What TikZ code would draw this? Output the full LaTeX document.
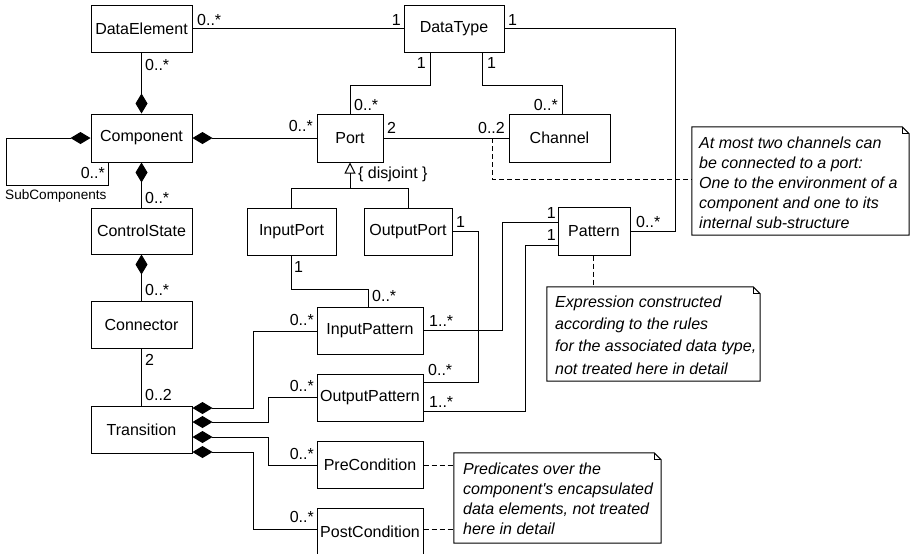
\documentclass[tikz,border=0pt]{standalone}
\usepackage{fontspec}
\setmainfont{Liberation Sans}
\usetikzlibrary{arrows.meta}
\begin{document}
\begin{tikzpicture}[x=1pt,y=-1pt,
  cls/.style={draw, line width=1pt, inner sep=0pt, font=\fontsize{16}{19}\selectfont},
  lbl/.style={inner sep=0pt, font=\fontsize{16}{19}\selectfont},
  small/.style={inner sep=0pt, font=\fontsize{13.6}{16}\selectfont},
  link/.style={line width=1pt},
  owner/.style={{Diamond[length=20pt,width=12pt]}-},
  owned/.style={-{Diamond[length=20pt,width=12pt]}},
  notebox/.style={inner sep=0pt},
  notetext/.style={inner sep=0pt, align=left, anchor=north west},
  dashline/.style={line width=1pt, dash pattern=on 5pt off 3pt},
]
\useasboundingbox (0,0) rectangle (910,554);
\fill[white] (0,0) rectangle (910,554);

% classes
\node[cls, minimum width=101pt, minimum height=47pt] (de) at (141.5,28.5) {DataElement};
\node[cls, minimum width=100pt, minimum height=47pt] (dt) at (454,28.5) {DataType};
\node[cls, minimum width=101pt, minimum height=48pt] (comp) at (141.5,138) {Component};
\node[cls, minimum width=66pt, minimum height=48pt] (port) at (350,138) {Port};
\node[cls, minimum width=101pt, minimum height=48pt] (chan) at (559.5,138) {Channel};
\node[cls, minimum width=101pt, minimum height=46pt] (cs) at (141.5,231) {ControlState};
\node[cls, minimum width=101pt, minimum height=47pt] (conn) at (141.5,324.5) {Connector};
\node[cls, minimum width=101pt, minimum height=47pt] (tr) at (141.5,429.5) {Transition};
\node[cls, minimum width=89pt, minimum height=47pt] (ip) at (291.5,231.5) {InputPort};
\node[cls, minimum width=88pt, minimum height=47pt] (op) at (408,231.5) {OutputPort};
\node[cls, minimum width=72pt, minimum height=48pt] (pat) at (594,231) {Pattern};
\node[cls, minimum width=106pt, minimum height=47pt] (inpat) at (370,330.5) {InputPattern};
\node[cls, minimum width=106pt, minimum height=47pt] (outpat) at (370,397.5) {OutputPattern};
\node[cls, minimum width=106pt, minimum height=47pt] (pre) at (370,464.5) {PreCondition};
\node[cls, minimum width=106pt, minimum height=47pt] (post) at (370,531.5) {PostCondition};

% notes
\node[notebox, minimum width=217pt, minimum height=108pt] (n1) at (800.5,181) {};
\node[notebox, minimum width=213pt, minimum height=94pt] (n2) at (653.5,334) {};
\node[notebox, minimum width=207pt, minimum height=90pt] (n3) at (557.5,498) {};
\foreach \n in {n1,n2,n3}{
  \draw[line width=1pt] (\n.north west) -- ([xshift=-7pt]\n.north east)
    -- ([yshift=-7pt]\n.north east) -- (\n.south east) -- (\n.south west) -- cycle;
  \draw[line width=0.8pt] ([xshift=-7pt]\n.north east) -- ([xshift=-7pt,yshift=-7pt]\n.north east)
    -- ([yshift=-7pt]\n.north east);
}
\node[notetext, font=\fontsize{16}{20}\selectfont\itshape] (n1t) at (699,136.5)
  {At most two channels can\\be connected to a port:\\One to the environment of a\\component and one to its\\internal sub-structure};
\node[notetext, font=\fontsize{16}{22.3}\selectfont\itshape] (n2t) at (555,295.5)
  {Expression constructed\\according to the rules\\for the associated data type,\\not treated here in detail};
\node[notetext, font=\fontsize{16}{20}\selectfont\itshape] (n3t) at (463,462.5)
  {Predicates over the\\component\textquotesingle s encapsulated\\data elements, not treated\\here in detail};

% associations
\draw[link] (de) -- (dt);
\draw[link, owned] (de.south) -- (comp.north);
\draw[link, owner] (comp.west) -| (6,185) -| (comp.south -| 108,0);
\draw[link, owner] (comp.east) -- (port.west);
\draw[link, owner] (comp.south) -- (cs.north);
\draw[link, owner] (cs.south) -- (conn.north);
\draw[link] (conn.south) -- (tr.north);
\draw[link] (dt.south -| 430,0) |- (350,85) -- (port.north);
\draw[link] (dt.south -| 482,0) |- (562,85) -- (chan.north -| 562,0);
\draw[link] (port.east) -- (chan.west);
\coordinate (pc) at (492,138);
\draw[dashline] (pc) |- (n1.west |- 0,179);
\draw[link] (dt.east) -| (675,231) -- (pat.east |- 0,231);

% generalization
\draw[link] (ip.north) |- (op.north |- 0,188) -- (op.north);
\draw[link, -{Triangle[open, length=11pt, width=11pt]}] (port.south |- 0,188) -- (port.south);

% patterns
\draw[link] (ip.south) |- (368,289) -- (inpat.north -| 368,0);
\draw[link] (op.east) -| (478,382) -- (outpat.east |- 0,382);
\draw[link] (inpat.east) -| (502,222) -- (pat.west |- 0,222);
\draw[link] (outpat.east |- 0,411) -| (525,245) -- (pat.west |- 0,245);
\draw[dashline] (pat.south -| 593,0) -- (n2.north -| 593,0);

% transition parts
\draw[link, owner] (tr.east |- 0,408) -| (253,331) -- (inpat.west |- 0,331);
\draw[link, owner] (tr.east |- 0,422) -| (268,397) -- (outpat.west |- 0,397);
\draw[link, owner] (tr.east |- 0,437) -| (268,465) -- (pre.west |- 0,465);
\draw[link, owner] (tr.east |- 0,452) -| (253,529) -- (post.west |- 0,529);
\draw[dashline] (pre.east |- 0,465) -- (n3.west |- 0,465);
\draw[dashline] (post.east |- 0,529) -- (n3.west |- 0,529);

% multiplicities
\node[lbl, anchor=west] (m1) at (197,20) {0..*};
\node[lbl, anchor=east] (m2) at (401,20) {1};
\node[lbl, anchor=west] (m3) at (508,20) {1};
\node[lbl, anchor=west] (m4) at (145,65) {0..*};
\node[lbl, anchor=east] (m5) at (313,126) {0..*};
\node[lbl, anchor=east] (m6) at (105,173) {0..*};
\node[small, anchor=west] (sub) at (5,196) {SubComponents};
\node[lbl, anchor=west] (m7) at (145,198) {0..*};
\node[lbl, anchor=west] (m8) at (145,290) {0..*};
\node[lbl, anchor=west] (m9) at (145,360) {2};
\node[lbl, anchor=west] (m10) at (145,395) {0..2};
\node[lbl, anchor=east] (m11) at (426,63) {1};
\node[lbl, anchor=west] (m12) at (487,63) {1};
\node[lbl, anchor=west] (m13) at (354,105) {0..*};
\node[lbl, anchor=east] (m14) at (558,105) {0..*};
\node[lbl, anchor=west] (m15) at (387,128) {2};
\node[lbl, anchor=east] (m16) at (505,128) {0..2};
\node[lbl, anchor=west] (dj) at (358,174) {\{ disjoint \}};
\node[lbl, anchor=west] (m17) at (456,222) {1};
\node[lbl, anchor=west] (m18) at (294,267) {1};
\node[lbl, anchor=west] (m19) at (372,296) {0..*};
\node[lbl, anchor=east] (m20) at (314,320) {0..*};
\node[lbl, anchor=west] (m21) at (429,321) {1..*};
\node[lbl, anchor=west] (m22) at (428,370) {0..*};
\node[lbl, anchor=east] (m23) at (556,213) {1};
\node[lbl, anchor=east] (m24) at (556,235) {1};
\node[lbl, anchor=west] (m25) at (636,222) {0..*};
\node[lbl, anchor=east] (m26) at (314,386) {0..*};
\node[lbl, anchor=west] (m27) at (429,402) {1..*};
\node[lbl, anchor=east] (m28) at (314,454) {0..*};
\node[lbl, anchor=east] (m29) at (314,517) {0..*};
\end{tikzpicture}
\end{document}
